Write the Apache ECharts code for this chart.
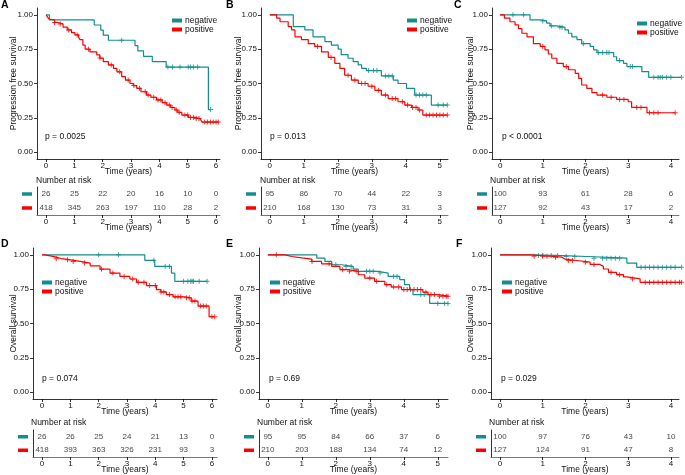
<!DOCTYPE html>
<html><head><meta charset="utf-8">
<script src="https://cdn.jsdelivr.net/npm/echarts@6/dist/echarts.min.js"></script>
<style>html,body{margin:0;padding:0;background:#fff}#c{width:685px;height:475px}</style>
</head><body><div id="c"></div>
<script>
// ---------------- DATA ----------------
const groups = ['negative', 'positive'];
const survTicks = [0, 0.25, 0.5, 0.75, 1];
const timeTicksA = [0, 1, 2, 3, 4, 5, 6];
const timeTicksB = [0, 1, 2, 3, 4, 5];
const timeTicksC = [0, 1, 2, 3, 4];
const pValues = ['p = 0.0025', 'p = 0.013', 'p < 0.0001', 'p = 0.074', 'p = 0.69', 'p = 0.029'];
const panelLetters = ['A', 'B', 'C', 'D', 'E', 'F'];
const yTitles = ['Progression free survival', 'Progression free survival', 'Progression free survival', 'Overall survival', 'Overall survival', 'Overall survival'];

// Kaplan-Meier steps: [time, survival]
const A_neg = [[0,1],[0.12,0.963],[1.70,0.926],[1.93,0.889],[2.02,0.852],[2.20,0.815],[3.14,0.776],[3.24,0.737],[3.44,0.698],[3.75,0.66],[4.24,0.62],[5.73,0.31],[5.81,0.31]];
const A_negCens = [2.67,4.30,4.46,4.73,5.02,5.10,5.20,5.35,5.81];
const A_pos = [[0,1],[0.05,0.985],[0.1,0.97],[0.14,0.963],[0.3,0.945],[0.4,0.934],[0.6,0.91],[0.75,0.89],[0.9,0.87],[1.02,0.854],[1.15,0.835],[1.2,0.82],[1.3,0.78],[1.38,0.75],[1.55,0.73],[1.79,0.708],[1.9,0.685],[2.02,0.66],[2.2,0.635],[2.38,0.61],[2.5,0.585],[2.67,0.55],[2.8,0.525],[2.96,0.5],[3.08,0.485],[3.2,0.465],[3.35,0.44],[3.55,0.416],[3.7,0.4],[3.9,0.38],[4.1,0.36],[4.26,0.343],[4.4,0.325],[4.55,0.307],[4.65,0.29],[4.79,0.27],[5.02,0.253],[5.25,0.245],[5.44,0.234],[5.5,0.219],[6.08,0.219]];
const A_posCens = [0.3,0.5,0.8,1.1,1.5,1.9,2.3,2.6,2.9,3.1,3.3,3.5,3.6,3.8,3.95,4.05,4.2,4.35,4.45,4.6,4.7,4.9,5.0,5.1,5.2,5.3,5.4,5.6,5.7,5.8,5.9,6.0,6.08];

const B_neg = [[0,1],[0.69,0.915],[1.03,0.89],[1.27,0.84],[1.62,0.805],[1.81,0.78],[2.01,0.75],[2.1,0.71],[2.3,0.684],[2.45,0.66],[2.6,0.635],[2.7,0.61],[2.84,0.594],[3.28,0.555],[3.63,0.525],[3.77,0.5],[4.02,0.465],[4.26,0.416],[4.75,0.343],[5.22,0.343]];
const B_negCens = [2.9,3.05,3.15,3.4,3.5,3.6,4.3,4.4,4.5,4.6,4.95,5.1,5.22];
const B_pos = [[0,1],[0.2,0.976],[0.3,0.95],[0.54,0.915],[0.64,0.89],[0.74,0.84],[0.93,0.82],[1.13,0.79],[1.32,0.77],[1.52,0.73],[1.72,0.69],[1.91,0.647],[2.06,0.61],[2.2,0.56],[2.4,0.525],[2.6,0.5],[2.89,0.48],[3.09,0.45],[3.28,0.416],[3.48,0.39],[3.77,0.367],[3.97,0.343],[4.17,0.326],[4.36,0.307],[4.5,0.27],[5.22,0.27]];
const B_posCens = [1.4,1.8,2.3,2.5,2.7,2.8,3.0,3.2,3.4,3.6,3.7,3.9,4.05,4.2,4.3,4.4,4.6,4.7,4.8,4.9,5.0,5.1,5.22];

const C_neg = [[0,1],[0.7,0.963],[0.94,0.956],[1.09,0.94],[1.17,0.92],[1.33,0.91],[1.52,0.89],[1.6,0.866],[1.68,0.84],[1.8,0.82],[1.91,0.79],[2.11,0.77],[2.19,0.745],[2.27,0.725],[2.66,0.695],[2.73,0.667],[2.89,0.647],[2.97,0.623],[3.32,0.586],[3.48,0.545],[4.25,0.545]];
const C_negCens = [0.3,0.55,1.0,1.2,1.4,1.45,1.95,2.3,2.4,2.5,2.55,2.8,3.05,3.1,3.6,3.7,3.75,3.8,3.9,4.0,4.25];
const C_pos = [[0,1],[0.1,0.976],[0.23,0.95],[0.35,0.927],[0.43,0.9],[0.51,0.866],[0.63,0.84],[0.78,0.79],[0.94,0.77],[1.05,0.745],[1.13,0.715],[1.21,0.684],[1.33,0.647],[1.48,0.623],[1.6,0.6],[1.76,0.574],[1.84,0.538],[1.91,0.489],[2.03,0.465],[2.15,0.433],[2.27,0.416],[2.5,0.4],[2.73,0.384],[3.0,0.367],[3.08,0.326],[3.44,0.287],[4.1,0.287]];
const C_posCens = [1.0,1.55,2.4,2.6,2.8,2.9,3.2,3.3,3.5,3.6,3.7,4.1];

const D_neg = [[0,1],[3.63,0.96],[3.98,0.916],[4.57,0.867],[4.69,0.807],[5.83,0.807]];
const D_negCens = [2.0,2.7,3.95,4.35,4.5,5.0,5.15,5.25,5.3,5.35,5.55,5.83];
const D_pos = [[0,1],[0.1,0.993],[0.29,0.983],[0.5,0.972],[0.7,0.964],[1.0,0.952],[1.35,0.94],[1.7,0.92],[2.05,0.896],[2.4,0.867],[2.75,0.843],[3.1,0.824],[3.34,0.8],[3.69,0.776],[4.04,0.747],[4.2,0.73],[4.39,0.711],[4.63,0.694],[5.04,0.687],[5.27,0.663],[5.51,0.627],[5.9,0.55],[6.1,0.55]];
const D_posCens = [0.5,0.9,1.1,1.5,2.1,2.5,2.9,3.2,3.4,3.6,3.8,4.0,4.2,4.3,4.5,4.7,4.8,4.9,5.1,5.2,5.3,5.4,5.6,5.7,5.8,6.0,6.1];

const E_neg = [[0,1],[1.44,0.976],[1.68,0.952],[1.88,0.928],[2.17,0.916],[2.51,0.896],[2.66,0.88],[3.24,0.867],[3.54,0.843],[3.88,0.82],[4.02,0.783],[4.17,0.747],[4.27,0.711],[4.76,0.646],[5.3,0.646]];
const E_negCens = [2.0,2.3,2.45,2.9,3.0,3.1,3.3,3.7,3.8,4.5,4.6,5.0,5.2,5.3];
const E_pos = [[0,1],[0.51,0.988],[0.7,0.978],[1.0,0.969],[1.29,0.952],[1.58,0.935],[1.88,0.916],[2.12,0.892],[2.36,0.88],[2.66,0.855],[2.85,0.831],[3.14,0.807],[3.44,0.783],[3.63,0.766],[3.93,0.747],[4.56,0.728],[4.71,0.711],[5.0,0.699],[5.3,0.699]];
const E_posCens = [0.25,1.3,1.8,2.2,2.4,2.6,3.0,3.2,3.5,3.7,3.85,4.0,4.1,4.2,4.3,4.4,4.5,4.65,4.8,4.9,5.05,5.15,5.25,5.3];

const F_neg = [[0,1],[0.74,0.995],[1.48,0.988],[2.03,0.976],[2.97,0.94],[3.2,0.909],[4.25,0.909]];
const F_negCens = [0.9,1.0,1.2,1.35,1.55,1.75,2.2,2.4,2.5,2.6,2.7,2.8,3.3,3.4,3.5,3.6,3.7,3.8,3.9,4.0,4.1,4.25];
const F_pos = [[0,1],[0.7,0.99],[1.17,0.983],[1.45,0.969],[1.52,0.959],[1.8,0.947],[2.11,0.93],[2.34,0.916],[2.42,0.897],[2.54,0.873],[2.73,0.856],[2.89,0.839],[2.97,0.825],[3.28,0.8],[4.25,0.8]];
const F_posCens = [0.8,1.0,1.1,1.3,1.6,1.7,2.0,2.2,2.6,2.8,3.1,3.4,3.5,3.6,3.7,3.8,3.9,4.0,4.1,4.2,4.25];

// Number at risk
const A_riskNeg = [26,25,22,20,16,10,0];
const A_riskPos = [418,345,263,197,110,28,2];
const B_riskNeg = [95,86,70,44,22,3];
const B_riskPos = [210,168,130,73,31,3];
const C_riskNeg = [100,93,61,28,6];
const C_riskPos = [127,92,43,17,2];
const D_riskNeg = [26,26,25,24,21,13,0];
const D_riskPos = [418,393,363,326,231,93,3];
const E_riskNeg = [95,95,84,66,37,6];
const E_riskPos = [210,203,188,134,74,12];
const F_riskNeg = [100,97,76,43,10];
const F_riskPos = [127,124,91,47,8];

// ---------------- LAYOUT / STYLE ----------------
const TEAL = '#128E8E', RED = '#FF0000';
const FONT = 'Liberation Sans, Arial, sans-serif';
const panels = [
  {neg:A_neg, negC:A_negCens, pos:A_pos, posC:A_posCens, rn:A_riskNeg, rp:A_riskPos, ticks:timeTicksA, left:37, right:220, xmin:-0.32, xmax:6.14, top:8, ttop:187, gap:19, leg:[172,16], letter:[1,0], pv:[45,132], nar:[36,176]},
  {neg:B_neg, negC:B_negCens, pos:B_pos, posC:B_posCens, rn:B_riskNeg, rp:B_riskPos, ticks:timeTicksB, left:261, right:448, xmin:-0.26, xmax:5.24, top:8, ttop:187, gap:18, leg:[407,16], letter:[226,0], pv:[270,132], nar:[260,176]},
  {neg:C_neg, negC:C_negCens, pos:C_pos, posC:C_posCens, rn:C_riskNeg, rp:C_riskPos, ticks:timeTicksC, left:492, right:679, xmin:-0.19, xmax:4.19, top:8, ttop:187, gap:17, leg:[637,19], letter:[454,0], pv:[502,132], nar:[490,176]},
  {neg:D_neg, negC:D_negCens, pos:D_pos, posC:D_posCens, rn:D_riskNeg, rp:D_riskPos, ticks:timeTicksA, left:33, right:217, xmin:-0.32, xmax:6.18, top:248, ttop:430, gap:15, leg:[42,278], letter:[1,239], pv:[42,374], nar:[31,418]},
  {neg:E_neg, negC:E_negCens, pos:E_pos, posC:E_posCens, rn:E_riskNeg, rp:E_riskPos, ticks:timeTicksB, left:259, right:448, xmin:-0.26, xmax:5.30, top:248, ttop:430, gap:16, leg:[270,278], letter:[226,239], pv:[269,374], nar:[257,418]},
  {neg:F_neg, negC:F_negCens, pos:F_pos, posC:F_posCens, rn:F_riskNeg, rp:F_riskPos, ticks:timeTicksC, left:491, right:679, xmin:-0.21, xmax:4.19, top:248, ttop:430, gap:16, leg:[502,278], letter:[456,239], pv:[501,374], nar:[489,418]}
];

function survAt(steps, t) {
  let s = steps[0][1];
  for (const p of steps) { if (p[0] <= t) s = p[1]; else break; }
  return s;
}
const PLUS = 'path://M4,0H6V4H10V6H6V10H4V6H0V4H4Z';

const grid = [], xAxis = [], yAxis = [], series = [], legend = [], graphic = [];
const axisLineStyle = {color: '#000', width: 0.8};
const labelStyle = {fontSize: 8, color: '#111', fontFamily: FONT};

panels.forEach((p, i) => {
  const w = p.right - p.left;
  grid.push({left: p.left, top: p.top, width: w, height: 151, containLabel: false});
  grid.push({left: p.left, top: p.ttop, width: w, height: 28, containLabel: false});
  const gPlot = 2 * i, gTab = 2 * i + 1;
  const xCommon = {
    type: 'value', min: p.xmin, max: p.xmax,
    axisLine: {show: true, onZero: false, lineStyle: axisLineStyle},
    axisTick: {show: true, length: 3, customValues: p.ticks, lineStyle: axisLineStyle},
    axisLabel: {customValues: p.ticks, margin: 3, ...labelStyle},
    splitLine: {show: false},
    name: 'Time (years)', nameLocation: 'middle', nameGap: 8, nameMoveOverlap: false,
    nameTextStyle: {fontSize: 8.5, color: '#111', fontFamily: FONT}
  };
  xAxis.push({...xCommon, gridIndex: gPlot});
  xAxis.push({...xCommon, gridIndex: gTab, axisLine: {show: true, onZero: false, lineStyle: {color: '#555', width: 0.8}}});
  yAxis.push({
    gridIndex: gPlot, type: 'value', min: -0.05, max: 1.05,
    axisLine: {show: true, onZero: false, lineStyle: axisLineStyle},
    axisTick: {show: true, length: 3, customValues: survTicks, lineStyle: axisLineStyle},
    axisLabel: {customValues: survTicks, margin: 4, formatter: v => Number(v).toFixed(2), ...labelStyle},
    splitLine: {show: false},
    name: yTitles[i], nameLocation: 'middle', nameGap: p.gap, nameMoveOverlap: false,
    nameTextStyle: {fontSize: 8.5, color: '#111', fontFamily: FONT}
  });
  yAxis.push({
    gridIndex: gTab, type: 'category', data: ['positive', 'negative'],
    axisLine: {show: true, onZero: false, lineStyle: axisLineStyle},
    axisTick: {show: false},
    axisLabel: {
      margin: 5, interval: 0,
      formatter: v => v === 'negative' ? '{n| }' : '{p| }',
      rich: {n: {width: 10, height: 3.5, backgroundColor: TEAL}, p: {width: 10, height: 3.5, backgroundColor: RED}}
    },
    splitLine: {show: false}
  });
  const curves = [[p.neg, p.negC, TEAL, 'negative'], [p.pos, p.posC, RED, 'positive']];
  curves.forEach(([steps, cens, col, name]) => {
    series.push({
      name, type: 'line', step: 'end', xAxisIndex: gPlot, yAxisIndex: gPlot,
      data: steps, showSymbol: false, symbol: 'none', clip: false,
      lineStyle: {color: col, width: 1.2}, itemStyle: {color: col}, silent: true
    });
    series.push({
      name: name + ' censored', type: 'scatter', xAxisIndex: gPlot, yAxisIndex: gPlot,
      data: cens.map(t => [t, survAt(steps, t)]), symbol: PLUS, symbolSize: 5,
      itemStyle: {color: col}, silent: true, clip: false
    });
  });
  [[p.rn, 1], [p.rp, 0]].forEach(([vals, row]) => {
    series.push({
      name: 'risk', type: 'scatter', xAxisIndex: gTab, yAxisIndex: gTab,
      data: vals.map((v, k) => [p.ticks[k], row, v]), symbolSize: 0, silent: true,
      label: {show: true, position: 'inside', formatter: q => q.value[2], fontSize: 8, color: '#111', fontFamily: FONT}
    });
  });
  legend.push({
    orient: 'vertical', left: p.leg[0], top: p.leg[1], itemWidth: 10, itemHeight: 4, itemGap: 0,
    selectedMode: false, padding: 0,
    textStyle: {fontSize: 8.5, color: '#111', fontFamily: FONT, padding: [0, 0, 0, -2]},
    data: [{name: 'negative', icon: 'rect', itemStyle: {color: TEAL}}, {name: 'positive', icon: 'rect', itemStyle: {color: RED}}]
  });
  graphic.push({type: 'text', left: p.letter[0], top: p.letter[1], style: {text: panelLetters[i], fontSize: 10.5, fontWeight: 'bold', fill: '#000', fontFamily: FONT}});
  graphic.push({type: 'text', left: p.pv[0], top: p.pv[1], style: {text: pValues[i], fontSize: 8.5, fill: '#111', fontFamily: FONT}});
  graphic.push({type: 'text', left: p.nar[0], top: p.nar[1], style: {text: 'Number at risk', fontSize: 8.5, fill: '#111', fontFamily: FONT}});
});

const chart = echarts.init(document.getElementById('c'), null, {renderer: 'canvas'});
chart.setOption({
  animation: false, backgroundColor: '#fff',
  grid, xAxis, yAxis, series, legend, graphic
});
</script>
</body></html>
